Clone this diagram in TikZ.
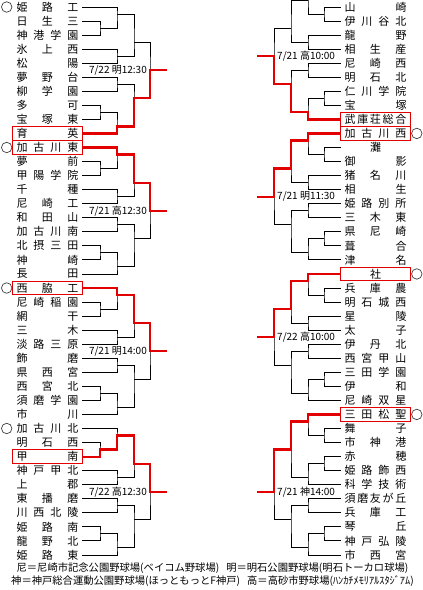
\documentclass[tikz,border=0pt]{standalone}
\usepackage{fontspec}
\setmainfont{Noto Sans CJK JP}
\usetikzlibrary{positioning}

\definecolor{winred}{RGB}{226,0,0}

% spread the letters of a school name over the name column
\newcommand{\tname}[1]{\hbox to 62pt{\expandafter\spreadfirst#1\relax}}
\def\spreadfirst#1{\ifx#1\relax\else#1\expandafter\spreadnext\fi}
\def\spreadnext#1{\ifx#1\relax\else\hfill#1\expandafter\spreadnext\fi}

\begin{document}
\begin{tikzpicture}[
    x=1pt, y=-14.05pt,
    team/.style={rectangle, inner xsep=3.5pt, inner ysep=0pt, minimum height=13.5pt, font=\fontsize{11}{11}\selectfont},
    winbox/.style={draw=winred, line width=1pt},
    bline/.style={draw, line width=0.9pt},
    rline/.style={draw=winred, line width=2.2pt},
    datelabel/.style={inner sep=0pt, font=\fontsize{10}{10}\selectfont},
    seed/.style={circle, draw=black!75, line width=0.7pt, minimum size=10.5pt, inner sep=0pt},
    note/.style={inner sep=0pt, font=\fontsize{10.3}{10.3}\selectfont}
]
\useasboundingbox (0,0.5018) rectangle (423,42.4947);
\clip (0,0.5018) rectangle (423,42.4947);

% schools, west half
\foreach \n [count=\i] in {姫路工,日生三,神港学園,氷上西,松陽,夢野台,柳学園,多可,宝塚東,育英,
    加古川東,夢前,甲陽学院,千種,尼崎工,和田山,加古川南,北摂三田,神崎,長田,
    西脇工,尼崎稲園,網干,三木,淡路三原,飾磨,県西宮,西宮北,須磨学園,市川,
    加古川北,明石西,甲南,神戸甲北,上郡,東播磨,川西北陵,姫路南,龍野北,姫路東}
  \node[team] (L\i) at (47.5,\i) {\tname{\n}};
% schools, east half
\foreach \n [count=\i] in {山崎,伊川谷北,龍野,相生産,尼崎西,明石北,仁川学院,宝塚,武庫荘総合,
    加古川西,\hfil 灘\hfil,御影,猪名川,相生,姫路別所,三木東,県尼崎,葺合,津名,
    \hfil 社\hfil,兵庫農,明石城西,星陵,太子,伊丹北,西宮甲山,三田学園,伊和,尼崎双星,
    三田松聖,舞子,市神港,赤穂,姫路飾西,科学技術,須磨友が丘,兵庫工,琴丘,神戸弘陵,市西宮}
  \node[team] (R\i) at (375.5,\i) {\tname{\n}};
\coordinate (R0) at (341,0);

% west brackets
\foreach \s in {1,11,21,31}{
  \pgfmathtruncatemacro\qb{\s+1}
  \pgfmathtruncatemacro\qc{\s+2}
  \pgfmathtruncatemacro\qd{\s+3}
  \pgfmathtruncatemacro\qe{\s+4}
  \pgfmathtruncatemacro\qf{\s+5}
  \pgfmathtruncatemacro\qg{\s+6}
  \pgfmathtruncatemacro\qh{\s+7}
  \pgfmathtruncatemacro\qi{\s+8}
  \pgfmathtruncatemacro\qj{\s+9}
  \coordinate (LA\s) at (100,\s+1.5);
  \coordinate (LB\s) at (117,\s+0.5);
  \coordinate (LC\s) at (117,\s+3.5);
  \coordinate (LD\s) at (134,\s+2.5);
  \coordinate (LE\s) at (117,\s+5.5);
  \coordinate (LF\s) at (100,\s+7.5);
  \coordinate (LG\s) at (117,\s+8.5);
  \coordinate (LH\s) at (134,\s+6.5);
  \coordinate (LI\s) at (150,\s+4.5);
  \coordinate (LX\s) at (167,\s+4.5);
  \draw[bline] (L\qb) -| (LA\s) |- (L\qc);
  \draw[bline] (L\s) -| (LB\s) |- (LA\s);
  \draw[bline] (L\qd) -| (LC\s) |- (L\qe);
  \draw[bline] (LB\s) -| (LD\s) |- (LC\s);
  \draw[bline] (L\qf) -| (LE\s) |- (L\qg);
  \draw[bline] (L\qh) -| (LF\s) |- (L\qi);
  \draw[bline] (LF\s) -| (LG\s) |- (L\qj);
  \draw[bline] (LE\s) -| (LH\s) |- (LG\s);
  \draw[bline] (LD\s) -| (LI\s) |- (LH\s);
}

% east brackets
\foreach \s in {0,10,20}{
  \pgfmathtruncatemacro\qb{\s+1}
  \pgfmathtruncatemacro\qc{\s+2}
  \pgfmathtruncatemacro\qd{\s+3}
  \pgfmathtruncatemacro\qe{\s+4}
  \pgfmathtruncatemacro\qf{\s+5}
  \pgfmathtruncatemacro\qg{\s+6}
  \pgfmathtruncatemacro\qh{\s+7}
  \pgfmathtruncatemacro\qi{\s+8}
  \pgfmathtruncatemacro\qj{\s+9}
  \pgfmathsetmacro\brow{max(\s+0.5,0.56)}
  \coordinate (RA\s) at (324,\s+1.5);
  \coordinate (RB\s) at (308,\brow);
  \coordinate (RC\s) at (308,\s+3.5);
  \coordinate (RD\s) at (291,\s+2.5);
  \coordinate (RE\s) at (308,\s+5.5);
  \coordinate (RF\s) at (324,\s+7.5);
  \coordinate (RG\s) at (308,\s+8.5);
  \coordinate (RH\s) at (291,\s+6.5);
  \coordinate (RI\s) at (274,\s+4.5);
  \coordinate (RX\s) at (257,\s+4.5);
  \draw[bline] (R\qb) -| (RA\s) |- (R\qc);
  \draw[bline] (R\s) -| (RB\s) |- (RA\s);
  \draw[bline] (R\qd) -| (RC\s) |- (R\qe);
  \draw[bline] (RB\s) -| (RD\s) |- (RC\s);
  \draw[bline] (R\qf) -| (RE\s) |- (R\qg);
  \draw[bline] (R\qh) -| (RF\s) |- (R\qi);
  \draw[bline] (RF\s) -| (RG\s) |- (R\qj);
  \draw[bline] (RE\s) -| (RH\s) |- (RG\s);
  \draw[bline] (RD\s) -| (RI\s) |- (RH\s);
}

% last east block has eleven schools
\coordinate (RA30) at (324,31.5);
\coordinate (RB30) at (308,30.5);
\coordinate (RK30) at (324,33.5);
\coordinate (RC30) at (308,34.5);
\coordinate (RD30) at (291,32.5);
\coordinate (RE30) at (308,36.5);
\coordinate (RF30) at (324,38.5);
\coordinate (RG30) at (308,39.5);
\coordinate (RH30) at (291,37.5);
\coordinate (RI30) at (274,35.5);
\coordinate (RX30) at (257,35.5);
\draw[bline] (R31) -| (RA30) |- (R32);
\draw[bline] (R30) -| (RB30) |- (RA30);
\draw[bline] (R33) -| (RK30) |- (R34);
\draw[bline] (RK30) -| (RC30) |- (R35);
\draw[bline] (RB30) -| (RD30) |- (RC30);
\draw[bline] (R36) -| (RE30) |- (R37);
\draw[bline] (R38) -| (RF30) |- (R39);
\draw[bline] (RF30) -| (RG30) |- (R40);
\draw[bline] (RE30) -| (RH30) |- (RG30);
\draw[bline] (RD30) -| (RI30) |- (RH30);

% winners so far
\draw[rline] (L10) -| (LG1) -| (LH1) -| (LI1) -- (LX1);
\draw[rline] (L11) -| (LB11) -| (LD11) -| (LI11) -- (LX11);
\draw[rline] (L21) -| (LB21) -| (LD21) -| (LI21) -- (LX21);
\draw[rline] (L33) -| (LA31) -| (LB31) -| (LD31) -| (LI31) -- (LX31);
\draw[rline] (R9) -| (RG0) -| (RH0) -| (RI0) -- (RX0);
\draw[rline] (R10) -| (RB10) -| (RD10) -| (RI10) -- (RX10);
\draw[rline] (R20) -| (RB20) -| (RD20) -| (RI20) -- (RX20);
\draw[rline] (R30) -| (RB30) -| (RD30) -| (RI30) -- (RX30);
\foreach \w in {L10,L11,L21,L33,R9,R10,R20,R30}
  \draw[winbox] (\w.south west) rectangle (\w.north east);

% dates and grounds
\node[datelabel, left=3pt of LI1] (LT1) {7/22 明12:30};
\node[datelabel, left=3pt of LI11] (LT11) {7/21 高12:30};
\node[datelabel, left=3pt of LI21] (LT21) {7/21 明14:00};
\node[datelabel, left=3pt of LI31] (LT31) {7/22 高12:30};
\node[datelabel, right=3pt of RI0] (RT0) {7/21 高10:00};
\node[datelabel, right=3pt of RI10] (RT10) {7/21 明11:30};
\node[datelabel, right=3pt of RI20] (RT20) {7/22 高10:00};
\node[datelabel, right=3pt of RI30] (RT30) {7/21 神14:00};

% seeded schools
\node[seed, left=0.5pt of L1] (LS1) {};
\node[seed, left=0.5pt of L11] (LS11) {};
\node[seed, left=0.5pt of L21] (LS21) {};
\node[seed, left=0.5pt of L31] (LS31) {};
\node[seed, right=1pt of R10] (RS10) {};
\node[seed, right=1pt of R20] (RS20) {};
\node[seed, right=1pt of R30] (RS30) {};

\node[note] (N1) at (212.5,40.93) {尼＝尼崎市記念公園野球場(ベイコム野球場)\hspace{7pt}明＝明石公園野球場(明石トーカロ球場)};
\node[note] (N2) at (212.5,41.85) {神＝神戸総合運動公園野球場(ほっともっとF神戸)\hspace{7pt}高＝高砂市野球場(ﾊﾝｶﾁﾒﾓﾘｱﾙｽﾀｼﾞｱﾑ)};
\end{tikzpicture}
\end{document}
